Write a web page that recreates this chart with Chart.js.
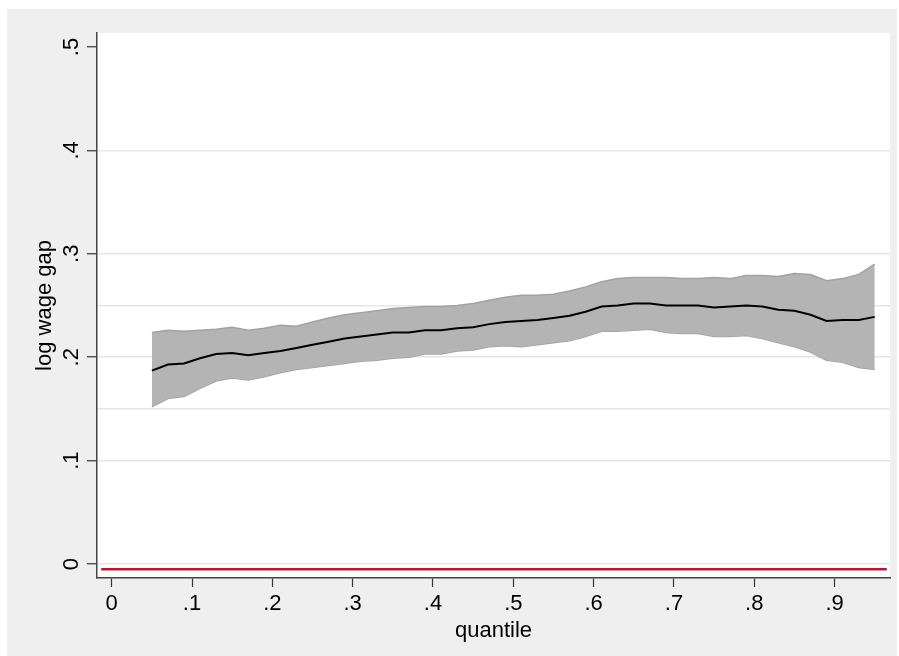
<!DOCTYPE html>
<html>
<head>
<meta charset="utf-8">
<script src="https://cdn.jsdelivr.net/npm/chart.js@4.4.0/dist/chart.umd.min.js"></script>
<style>
  html, body { margin: 0; padding: 0; background: #fff; }
  canvas { display: block; }
</style>
</head>
<body>
<canvas id="gapChart" width="899" height="656"></canvas>
<script>
// quantiles and estimates
const quantiles = [0.05, 0.07, 0.09, 0.11, 0.13, 0.15, 0.17, 0.19, 0.21, 0.23, 0.25, 0.27, 0.29, 0.31, 0.33, 0.35,
  0.37, 0.39, 0.41, 0.43, 0.45, 0.47, 0.49, 0.51, 0.53, 0.55, 0.57, 0.59, 0.61, 0.63, 0.65, 0.67,
  0.69, 0.71, 0.73, 0.75, 0.77, 0.79, 0.81, 0.83, 0.85, 0.87, 0.89, 0.91, 0.93, 0.95];
const gap = [0.187, 0.193, 0.194, 0.199, 0.203, 0.204, 0.202, 0.204, 0.206, 0.209, 0.212, 0.215, 0.218, 0.220, 0.222, 0.224,
  0.224, 0.226, 0.226, 0.228, 0.229, 0.232, 0.234, 0.235, 0.236, 0.238, 0.240, 0.244, 0.249, 0.250, 0.252, 0.252,
  0.250, 0.250, 0.250, 0.248, 0.249, 0.250, 0.249, 0.246, 0.245, 0.241, 0.235, 0.236, 0.236, 0.239];
const upper = [0.224, 0.226, 0.225, 0.226, 0.227, 0.229, 0.226, 0.228, 0.231, 0.230, 0.234, 0.238, 0.241, 0.243, 0.245, 0.247,
  0.248, 0.249, 0.249, 0.250, 0.252, 0.255, 0.258, 0.260, 0.260, 0.261, 0.264, 0.268, 0.273, 0.276, 0.277, 0.277,
  0.277, 0.276, 0.276, 0.277, 0.276, 0.279, 0.279, 0.278, 0.281, 0.280, 0.274, 0.276, 0.280, 0.290];
const lower = [0.152, 0.160, 0.162, 0.170, 0.177, 0.180, 0.178, 0.181, 0.185, 0.188, 0.190, 0.192, 0.194, 0.196, 0.197, 0.199,
  0.200, 0.203, 0.203, 0.206, 0.207, 0.210, 0.211, 0.210, 0.212, 0.214, 0.216, 0.220, 0.225, 0.225, 0.226, 0.227,
  0.224, 0.223, 0.223, 0.220, 0.220, 0.221, 0.218, 0.214, 0.210, 0.205, 0.197, 0.195, 0.190, 0.188];

// red reference line
const refX = [-0.013, 0.965];
const refY = [-0.005, -0.005];

const xTicks = [0, 0.1, 0.2, 0.3, 0.4, 0.5, 0.6, 0.7, 0.8, 0.9];
const xTickLabels = ['0', '.1', '.2', '.3', '.4', '.5', '.6', '.7', '.8', '.9'];
const yTicks = [0, 0.1, 0.15, 0.2, 0.25, 0.3, 0.4, 0.5];
const yTickLabels = ['0', '.1', '', '.2', '', '.3', '.4', '.5'];

const FONT = { family: '"Liberation Sans", Arial, sans-serif', size: 22 };

const pts = (xs, ys) => xs.map((x, i) => ({ x, y: ys[i] }));

const backdrop = {
  id: 'backdrop',
  beforeDraw(chart) {
    const { ctx, chartArea } = chart;
    ctx.save();
    ctx.fillStyle = '#efefef';
    ctx.fillRect(7, 9, 890, 647);
    ctx.fillStyle = '#ffffff';
    ctx.fillRect(chartArea.left, chartArea.top, chartArea.right - chartArea.left, chartArea.bottom - chartArea.top);
    ctx.restore();
  }
};

new Chart(document.getElementById('gapChart').getContext('2d'), {
  type: 'line',
  data: {
    datasets: [
      { data: pts(quantiles, lower), borderColor: '#a2a2a2', borderWidth: 1.5, pointRadius: 0, fill: false, order: 3 },
      { data: pts(quantiles, upper), borderColor: '#a2a2a2', borderWidth: 1.5, pointRadius: 0,
        fill: '-1', backgroundColor: '#b4b4b4', order: 2 },
      { data: pts(quantiles, gap), borderColor: '#000000', borderWidth: 2, pointRadius: 0, fill: false, order: 0 },
      { data: pts(refX, refY), borderColor: '#c8102e', borderWidth: 2.5, pointRadius: 0, fill: false, order: 1 }
    ]
  },
  options: {
    responsive: false,
    animation: false,
    devicePixelRatio: 1,
    layout: { padding: { left: 0, top: 33, right: 9, bottom: 0 } },
    plugins: { legend: { display: false }, tooltip: { enabled: false } },
    elements: { line: { tension: 0 } },
    scales: {
      x: {
        type: 'linear',
        min: -0.0183,
        max: 0.969,
        afterBuildTicks: s => { s.ticks = xTicks.map(v => ({ value: v })); },
        afterFit: s => { s.height = 78; },
        ticks: {
          color: '#000',
          font: FONT,
          padding: 4,
          maxRotation: 0,
          autoSkip: false,
          callback: (v, i) => xTickLabels[i]
        },
        grid: { drawOnChartArea: false, drawTicks: true, tickLength: 9, tickColor: '#333', tickWidth: 1.2 },
        border: { color: '#444', width: 1.5 },
        title: { display: true, text: 'quantile', color: '#000', font: FONT, padding: { top: 0, bottom: 12 } }
      },
      y: {
        min: -0.0135,
        max: 0.5135,
        afterBuildTicks: s => { s.ticks = yTicks.map(v => ({ value: v })); },
        afterFit: s => { s.width = 97; },
        ticks: {
          color: '#000',
          font: FONT,
          padding: 6,
          minRotation: 90,
          maxRotation: 90,
          crossAlign: 'center',
          autoSkip: false,
          callback: (v, i) => yTickLabels[i]
        },
        grid: {
          color: c => (c.tick && c.tick.value === 0.5) ? 'rgba(0,0,0,0)' : '#e6e6e6',
          lineWidth: 1.5,
          tickLength: 10,
          tickWidth: 1.2,
          tickColor: c => (c.tick && yTickLabels[yTicks.indexOf(c.tick.value)] === '') ? 'rgba(0,0,0,0)' : '#333'
        },
        border: { color: '#444', width: 1.5 },
        title: { display: true, text: 'log wage gap', color: '#000', font: FONT, padding: { top: 32, bottom: 0 } }
      }
    }
  },
  plugins: [backdrop]
});
</script>
</body>
</html>
